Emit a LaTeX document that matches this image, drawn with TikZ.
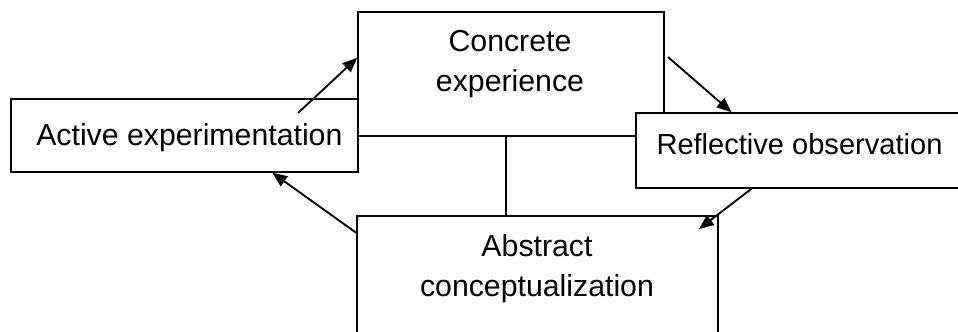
\documentclass[tikz,border=0pt]{standalone}
\usepackage{fontspec}
\setmainfont{Liberation Sans}
\usetikzlibrary{arrows.meta}

\tikzset{
  stage/.style={draw, fill=white, line width=1.2pt, rectangle, inner sep=0pt},
  stagetext/.style={inner sep=0pt, align=center, font=\fontsize{22.7}{30}\selectfont},
  flow/.style={line width=1.4pt, -{Triangle[length=11pt,width=9pt]}},
}

\begin{document}
\begin{tikzpicture}[x=0.75pt,y=0.75pt,yscale=-1,xscale=1]
\useasboundingbox (0,0) rectangle (958,332);
\clip (0,0) rectangle (958,332);

%Shape: Rectangle [concrete experience]
\node [stage, minimum width=229.5pt, minimum height=93pt] (cx) at (511,74) {};
%Shape: Rectangle [active experimentation]
\node [stage, minimum width=260.25pt, minimum height=54.75pt] (ac) at (184.5,135.5) {};
%Shape: Rectangle [abstract conceptualization]
\node [stage, minimum width=270.75pt, minimum height=93pt] (ab) at (537.5,278) {};
%Straight Lines [link]
\draw [line width=1.2pt] ([xshift=-3.75pt]cx.south) -- ([xshift=-3.75pt]cx.south |- ab.north);
%Shape: Rectangle [reflective observation]
\node [stage, minimum width=246.75pt, minimum height=56.25pt] (ro) at (800.5,150.5) {};

% Text Node
\node [stagetext, anchor=base] (cxt) at (510,91) {Concrete\\experience};
% Text Node
\node [stagetext, anchor=base west] (act) at (36,145) {Active experimentation};
% Text Node
\node [stagetext, anchor=base] (abt) at (537,296) {Abstract\\conceptualization};
% Text Node
\node [stagetext, anchor=base, font=\fontsize{21.8}{30}\selectfont] (rot) at (799.5,154) {Reflective observation};

%Straight Lines [arrows]
\coordinate (acTail) at (298,113);
\coordinate (cxTail) at (668,57);
\coordinate (abTip) at (699,229);
\draw [flow] (acTail) -- (cx.174);
\draw [flow] (cxTail) -- (ro.151);
\draw [flow] (ro.218) -- (abTip);
\draw [flow] (ab.166) -- (ac.337);
\end{tikzpicture}
\end{document}
